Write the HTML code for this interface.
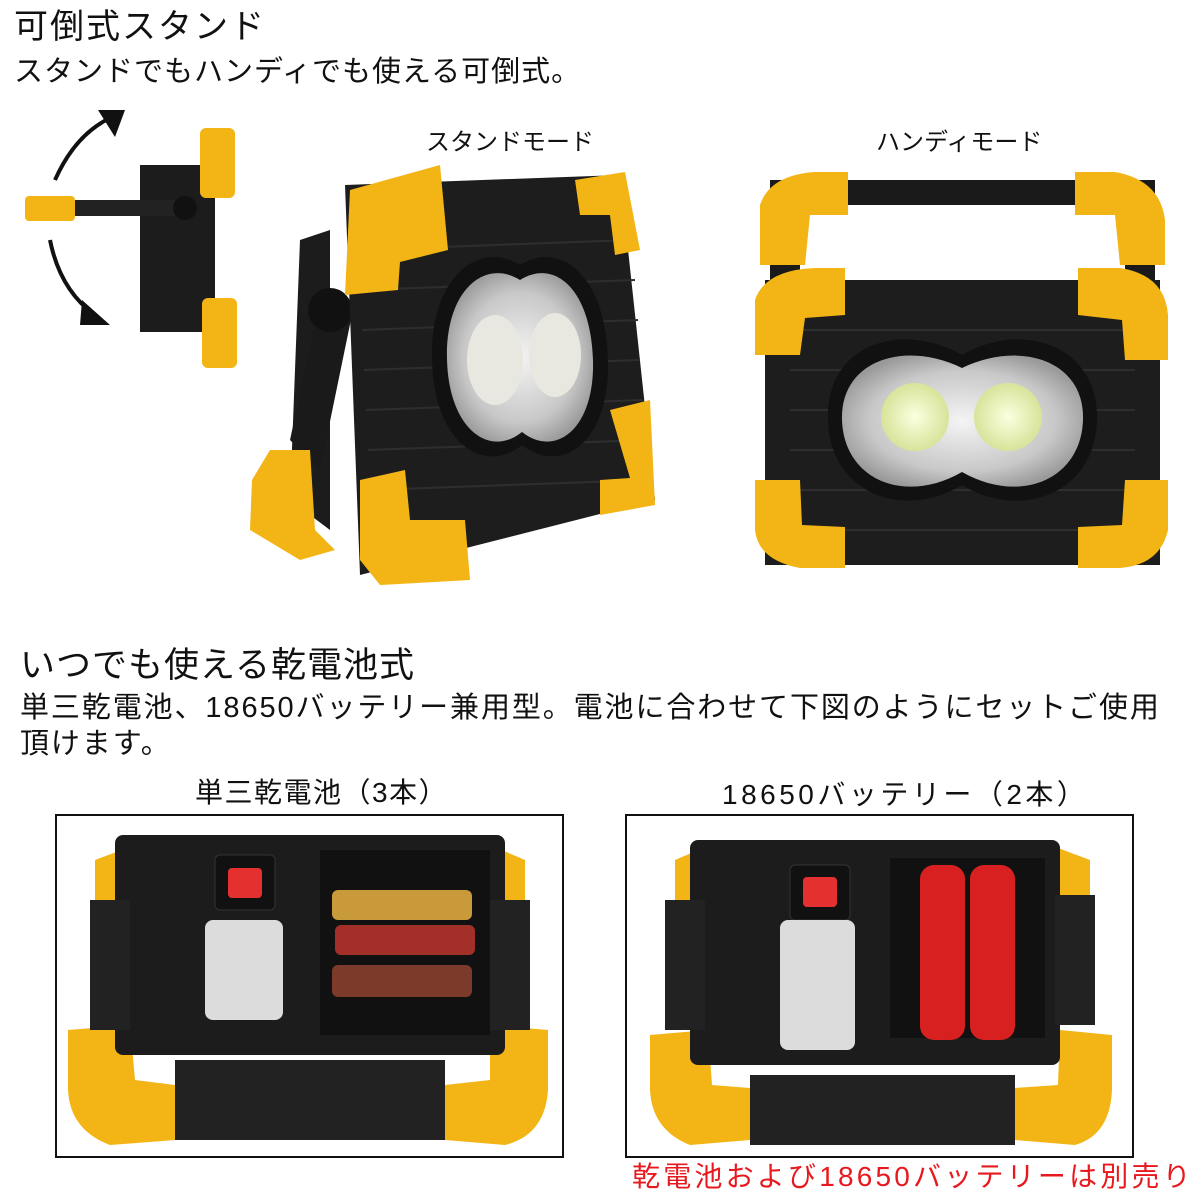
<!DOCTYPE html>
<html><head><meta charset="utf-8"><style>
html,body{margin:0;padding:0;background:#fff;}
body{width:1200px;height:1200px;position:relative;overflow:hidden;font-family:"Liberation Sans","Noto Sans CJK JP",sans-serif;color:#111;}
.t{position:absolute;white-space:nowrap;line-height:1;}
svg{position:absolute;left:0;top:0;}
</style></head><body>
<svg width="1200" height="1200" viewBox="0 0 1200 1200">
<defs>
<radialGradient id="silver" cx="50%" cy="50%" r="55%"><stop offset="0" stop-color="#f4f4f4"/><stop offset="0.7" stop-color="#c8c8c8"/><stop offset="1" stop-color="#9a9a9a"/></radialGradient>
<radialGradient id="led" cx="50%" cy="50%" r="50%"><stop offset="0" stop-color="#fbffe0"/><stop offset="1" stop-color="#d8e39a"/></radialGradient>
</defs>
<g fill="none" stroke="#111" stroke-width="4">
<path d="M55 180 Q75 135 110 118"/><path d="M50 240 Q60 290 95 315"/></g>
<polygon points="98,110 125,110 115,137" fill="#111"/>
<polygon points="82,300 110,325 80,325" fill="#111"/>
<rect x="140" y="165" width="75" height="167" fill="#1c1c1c"/>
<rect x="70" y="200" width="120" height="16" fill="#222"/>
<circle cx="185" cy="208" r="12" fill="#111"/>
<rect x="25" y="196" width="50" height="25" rx="4" fill="#f3b515"/>
<rect x="200" y="128" width="35" height="70" rx="6" fill="#f3b515"/>
<rect x="202" y="298" width="35" height="70" rx="6" fill="#f3b515"/>
<polygon points="300,240 330,230 330,530 290,500" fill="#1c1c1c"/>
<polygon points="320,300 355,300 320,470 290,440" fill="#1a1a1a"/>
<circle cx="330" cy="310" r="22" fill="#111"/>
<polygon points="345,185 620,175 655,500 360,575" fill="#1d1d1d"/>
<g stroke="#2e2e2e" stroke-width="2">
<line x1="360" y1="250" x2="630" y2="240"/><line x1="360" y1="290" x2="635" y2="280"/><line x1="362" y1="330" x2="638" y2="320"/><line x1="364" y1="370" x2="640" y2="360"/><line x1="366" y1="410" x2="643" y2="400"/><line x1="368" y1="450" x2="646" y2="440"/><line x1="370" y1="490" x2="648" y2="480"/></g>
<path d="M520 265 C480 240 430 275 432 360 C434 445 485 475 522 445 C560 475 610 445 608 360 C606 275 560 240 520 265Z" fill="#111"/>
<path d="M520 280 C485 258 445 290 447 360 C449 430 490 458 522 432 C555 458 595 430 593 360 C591 290 555 258 520 280Z" fill="url(#silver)"/>
<ellipse cx="495" cy="360" rx="28" ry="45" fill="#e8e8e0"/><ellipse cx="555" cy="355" rx="26" ry="42" fill="#e8e8e0"/>
<g fill="#f3b515">
<path d="M350 190 L440 165 L448 250 L400 262 L398 290 L345 295Z"/>
<path d="M575 180 L625 172 L640 250 L615 255 L610 215 L580 215Z"/>
<path d="M360 480 L405 470 L410 520 L465 520 L470 580 L380 585 L360 560Z"/>
<path d="M610 410 L650 400 L655 505 L600 515 L600 480 L630 478Z"/>
<path d="M270 450 L310 450 L315 530 L335 550 L300 560 L250 530 L252 480Z"/>
</g>
<rect x="770" y="180" width="385" height="30" fill="#1a1a1a"/>
<rect x="800" y="205" width="325" height="60" fill="#fff"/>
<rect x="770" y="205" width="30" height="80" fill="#1a1a1a"/><rect x="1125" y="205" width="30" height="80" fill="#1a1a1a"/>
<rect x="765" y="280" width="395" height="285" fill="#1d1d1d"/>
<g stroke="#2e2e2e" stroke-width="2"><line x1="790" y1="330" x2="1135" y2="330"/><line x1="790" y1="370" x2="1135" y2="370"/><line x1="790" y1="410" x2="1135" y2="410"/><line x1="790" y1="450" x2="1135" y2="450"/><line x1="790" y1="490" x2="1135" y2="490"/><line x1="790" y1="530" x2="1135" y2="530"/></g>
<path d="M962 355 C900 320 825 345 828 420 C830 495 905 520 962 485 C1020 520 1095 495 1097 420 C1099 345 1022 320 962 355Z" fill="#111"/>
<path d="M962 368 C905 340 840 360 842 420 C844 480 905 505 962 472 C1020 505 1081 480 1083 420 C1085 360 1020 340 962 368Z" fill="url(#silver)"/>
<circle cx="915" cy="417" r="34" fill="url(#led)"/><circle cx="1008" cy="417" r="34" fill="url(#led)"/>
<g fill="#f3b515">
<path d="M760 205 Q770 175 815 172 L848 172 L848 215 L810 215 L805 265 L760 265Z"/>
<path d="M1075 172 L1115 172 Q1160 180 1165 220 L1165 265 L1120 265 L1115 215 L1075 215Z"/>
<path d="M755 300 Q765 270 815 268 L845 268 L845 315 L805 318 L800 355 L755 355Z"/>
<path d="M1078 268 L1120 268 Q1165 275 1168 315 L1168 360 L1125 360 L1122 320 L1078 315Z"/>
<path d="M755 480 L800 480 L802 525 L845 527 L845 568 L800 568 Q758 560 755 530Z"/>
<path d="M1125 480 L1168 480 L1168 530 Q1160 565 1120 568 L1078 568 L1078 527 L1122 525Z"/>
</g>
<rect x="56" y="815" width="507" height="342" fill="none" stroke="#111" stroke-width="2"/>
<rect x="626" y="815" width="507" height="342" fill="none" stroke="#111" stroke-width="2"/>
<g fill="#f3b515">
<path d="M95 860 L135 845 L135 930 L95 930Z"/><path d="M490 845 L525 860 L525 930 L490 930Z"/>
<path d="M68 1030 L130 1025 L135 1080 L175 1085 L175 1140 L110 1145 Q70 1130 68 1090Z"/>
<path d="M490 1025 L548 1030 L548 1090 Q545 1135 505 1145 L445 1140 L445 1085 L490 1080Z"/>
<path d="M675 860 L710 845 L710 930 L675 930Z"/><path d="M1050 845 L1090 860 L1090 930 L1050 930Z"/>
<path d="M650 1035 L708 1030 L712 1085 L750 1088 L750 1140 L690 1145 Q652 1130 650 1090Z"/>
<path d="M1060 1030 L1112 1035 L1112 1090 Q1110 1135 1075 1145 L1015 1140 L1015 1088 L1058 1085Z"/>
</g>
<rect x="115" y="835" width="390" height="220" rx="8" fill="#1c1c1c"/>
<rect x="175" y="1060" width="270" height="80" fill="#222"/>
<rect x="90" y="900" width="40" height="130" fill="#222"/><rect x="490" y="900" width="40" height="130" fill="#222"/>
<rect x="320" y="850" width="170" height="185" fill="#111"/>
<rect x="215" y="855" width="60" height="55" rx="5" fill="#111" stroke="#333"/>
<rect x="228" y="868" width="34" height="30" rx="4" fill="#e53030"/>
<rect x="205" y="920" width="78" height="100" rx="8" fill="#dcdcdc"/>
<rect x="332" y="890" width="140" height="30" rx="6" fill="#c89a3a"/>
<rect x="335" y="925" width="140" height="30" rx="6" fill="#a33028"/>
<rect x="332" y="965" width="140" height="32" rx="6" fill="#7b3a2a"/>
<rect x="690" y="840" width="370" height="225" rx="8" fill="#1c1c1c"/>
<rect x="750" y="1075" width="265" height="70" fill="#222"/>
<rect x="665" y="900" width="40" height="130" fill="#222"/><rect x="1055" y="895" width="40" height="130" fill="#222"/>
<rect x="890" y="858" width="155" height="180" fill="#111"/>
<rect x="790" y="865" width="60" height="55" rx="5" fill="#111" stroke="#333"/>
<rect x="803" y="877" width="34" height="30" rx="4" fill="#e53030"/>
<rect x="780" y="920" width="75" height="130" rx="8" fill="#dcdcdc"/>
<rect x="920" y="865" width="45" height="175" rx="14" fill="#d82020"/>
<rect x="970" y="865" width="45" height="175" rx="14" fill="#d82020"/>
</svg>
<div class="t" style="left:14px;top:10px;font-size:34px;letter-spacing:2px;">可倒式スタンド</div>
<div class="t" style="left:14px;top:58px;font-size:29px;letter-spacing:1px;">スタンドでもハンディでも使える可倒式。</div>
<div class="t" style="left:426px;top:131px;font-size:24px;">スタンドモード</div>
<div class="t" style="left:876px;top:131px;font-size:24px;">ハンディモード</div>
<div class="t" style="left:20px;top:648px;font-size:35px;letter-spacing:1px;">いつでも使える乾電池式</div>
<div class="t" style="left:20px;top:694px;font-size:29px;letter-spacing:1.9px;">単三乾電池、18650バッテリー兼用型。電池に合わせて下図のようにセットご使用</div>
<div class="t" style="left:20px;top:730px;font-size:29px;letter-spacing:1.9px;">頂けます。</div>
<div class="t" style="left:195px;top:779px;font-size:28px;letter-spacing:1.5px;">単三乾電池（3本）</div>
<div class="t" style="left:722px;top:781px;font-size:28px;letter-spacing:3.5px;">18650バッテリー（2本）</div>
<div class="t" style="left:632px;top:1163px;font-size:28px;color:#e8191e;letter-spacing:3.2px;">乾電池および18650バッテリーは別売り</div>
</body></html>
